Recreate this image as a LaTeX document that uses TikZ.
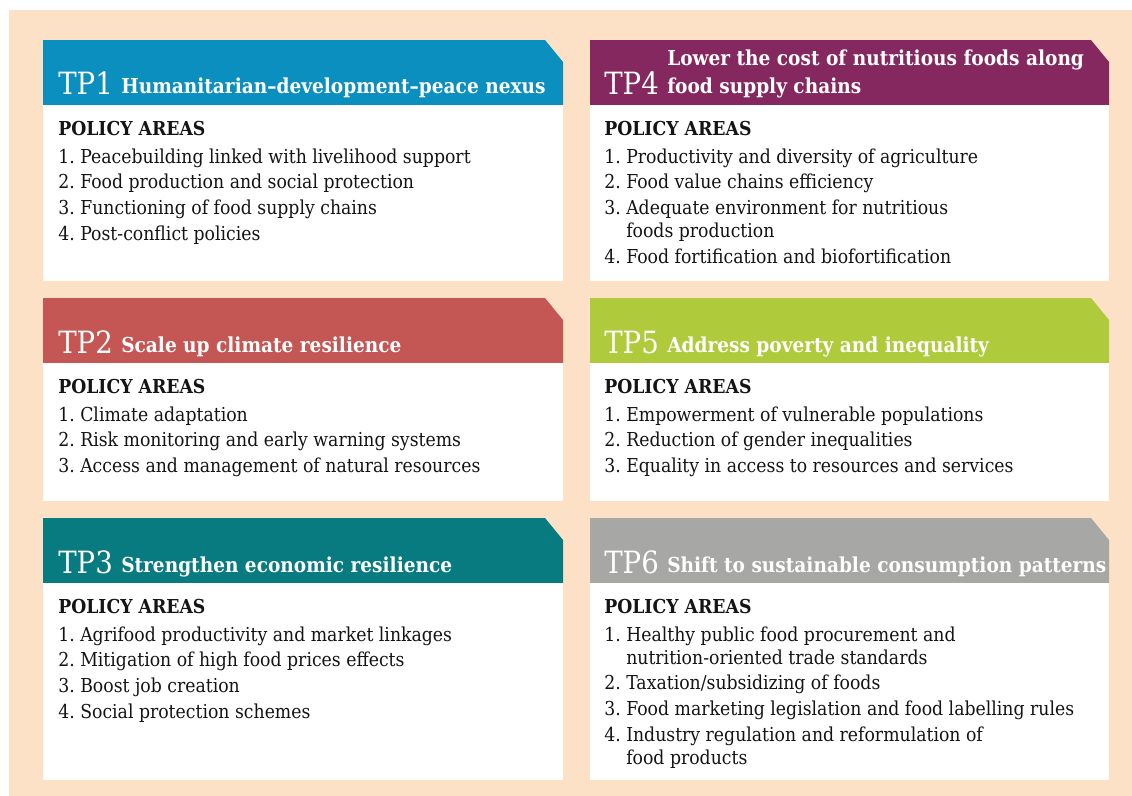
\documentclass[tikz,border=0pt]{standalone}
\usepackage{fontspec}
\setmainfont{DejaVu Serif}[FakeStretch=0.9]
\definecolor{peach}{HTML}{FCE1C6}
\definecolor{tpblue}{HTML}{0A8FBF}
\definecolor{tpred}{HTML}{C45654}
\definecolor{tpteal}{HTML}{077B80}
\definecolor{tpplum}{HTML}{84285F}
\definecolor{tpgreen}{HTML}{AFCA3A}
\definecolor{tpgrey}{HTML}{A7A7A5}
\definecolor{bodyink}{HTML}{141414}
\tikzset{
  tpnum/.style={anchor=base west, inner sep=0pt, text=white, font=\fontsize{23}{23}\selectfont},
  tptitle/.style={anchor=base west, inner sep=0pt, text=white, font=\fontsize{15.45}{21}\selectfont\bfseries},
  tpbody/.style={anchor=base west, inner sep=0pt, text=bodyink},
  bodybox/.style={fill=white},
}
\newcommand\pitem[2]{\par\noindent\hangindent=16.5pt\hangafter=1\makebox[16.5pt][l]{#1}#2}
\newcommand\policylist[1]{\parbox[t]{380pt}{\fontsize{14.4}{17.3}\selectfont\setlength\parskip{2pt}\noindent\textbf{POLICY AREAS}\par\vspace{1.7pt}#1}}
\begin{document}
\begin{tikzpicture}[x=0.75pt,y=0.75pt,yscale=-1,xscale=1]
    %set diagram to 1132 x 796
    \useasboundingbox (0,0) rectangle (1132,796);
    \fill[white] (0,0) rectangle (1132,796);
    \fill[peach] (9,10) rectangle (1132,796);
    %Shape: Header TP1
    \fill[tpblue] (43,40) -- (545,40) -- (563,62) -- (563,105) -- (43,105) -- cycle;
    \fill[bodybox] (43,105) rectangle (563,281);
    %Shape: Header TP2
    \fill[tpred] (43,298) -- (545,298) -- (563,320) -- (563,363) -- (43,363) -- cycle;
    \fill[bodybox] (43,363) rectangle (563,501);
    %Shape: Header TP3
    \fill[tpteal] (43,518) -- (545,518) -- (563,540) -- (563,583) -- (43,583) -- cycle;
    \fill[bodybox] (43,583) rectangle (563,780);
    %Shape: Header TP4
    \fill[tpplum] (590,40) -- (1091,40) -- (1109,62) -- (1109,105) -- (590,105) -- cycle;
    \fill[bodybox] (590,105) rectangle (1109,281);
    %Shape: Header TP5
    \fill[tpgreen] (590,298) -- (1091,298) -- (1109,320) -- (1109,363) -- (590,363) -- cycle;
    \fill[bodybox] (590,363) rectangle (1109,501);
    %Shape: Header TP6
    \fill[tpgrey] (590,518) -- (1091,518) -- (1109,540) -- (1109,583) -- (590,583) -- cycle;
    \fill[bodybox] (590,583) rectangle (1109,780);

    % Text Node
    \node (tp1num) [tpnum] at (58,94) {TP1};
    \node (tp1title) [tptitle] at (121,93) {Humanitarian--development--peace nexus};
    \node (tp1body) [tpbody] at (58,135) {\policylist{%
      \pitem{1.}{Peacebuilding linked with livelihood support}
      \pitem{2.}{Food production and social protection}
      \pitem{3.}{Functioning of food supply chains}
      \pitem{4.}{Post-conflict policies}}};
    % Text Node
    \node (tp2num) [tpnum] at (58,353) {TP2};
    \node (tp2title) [tptitle] at (121,352) {Scale up climate resilience};
    \node (tp2body) [tpbody] at (58,393) {\policylist{%
      \pitem{1.}{Climate adaptation}
      \pitem{2.}{Risk monitoring and early warning systems}
      \pitem{3.}{Access and management of natural resources}}};
    % Text Node
    \node (tp3num) [tpnum] at (58,573) {TP3};
    \node (tp3title) [tptitle] at (121,572) {Strengthen economic resilience};
    \node (tp3body) [tpbody] at (58,613) {\policylist{%
      \pitem{1.}{Agrifood productivity and market linkages}
      \pitem{2.}{Mitigation of high food prices effects}
      \pitem{3.}{Boost job creation}
      \pitem{4.}{Social protection schemes}}};
    % Text Node
    \node (tp4num) [tpnum] at (604,94) {TP4};
    \node (tp4title) [tptitle] at (667,93) {\parbox[b]{330pt}{Lower the cost of nutritious foods along\\food supply chains}};
    \node (tp4body) [tpbody] at (604,135) {\policylist{%
      \pitem{1.}{Productivity and diversity of agriculture}
      \pitem{2.}{Food value chains efficiency}
      \pitem{3.}{Adequate environment for nutritious\\foods production}
      \pitem{4.}{Food fortification and biofortification}}};
    % Text Node
    \node (tp5num) [tpnum] at (604,353) {TP5};
    \node (tp5title) [tptitle] at (667,352) {Address poverty and inequality};
    \node (tp5body) [tpbody] at (604,393) {\policylist{%
      \pitem{1.}{Empowerment of vulnerable populations}
      \pitem{2.}{Reduction of gender inequalities}
      \pitem{3.}{Equality in access to resources and services}}};
    % Text Node
    \node (tp6num) [tpnum] at (604,573) {TP6};
    \node (tp6title) [tptitle] at (667,572) {Shift to sustainable consumption patterns};
    \node (tp6body) [tpbody] at (604,613) {\policylist{%
      \pitem{1.}{Healthy public food procurement and\\nutrition-oriented trade standards}
      \pitem{2.}{Taxation/subsidizing of foods}
      \pitem{3.}{Food marketing legislation and food labelling rules}
      \pitem{4.}{Industry regulation and reformulation of\\food products}}};
\end{tikzpicture}
\end{document}
